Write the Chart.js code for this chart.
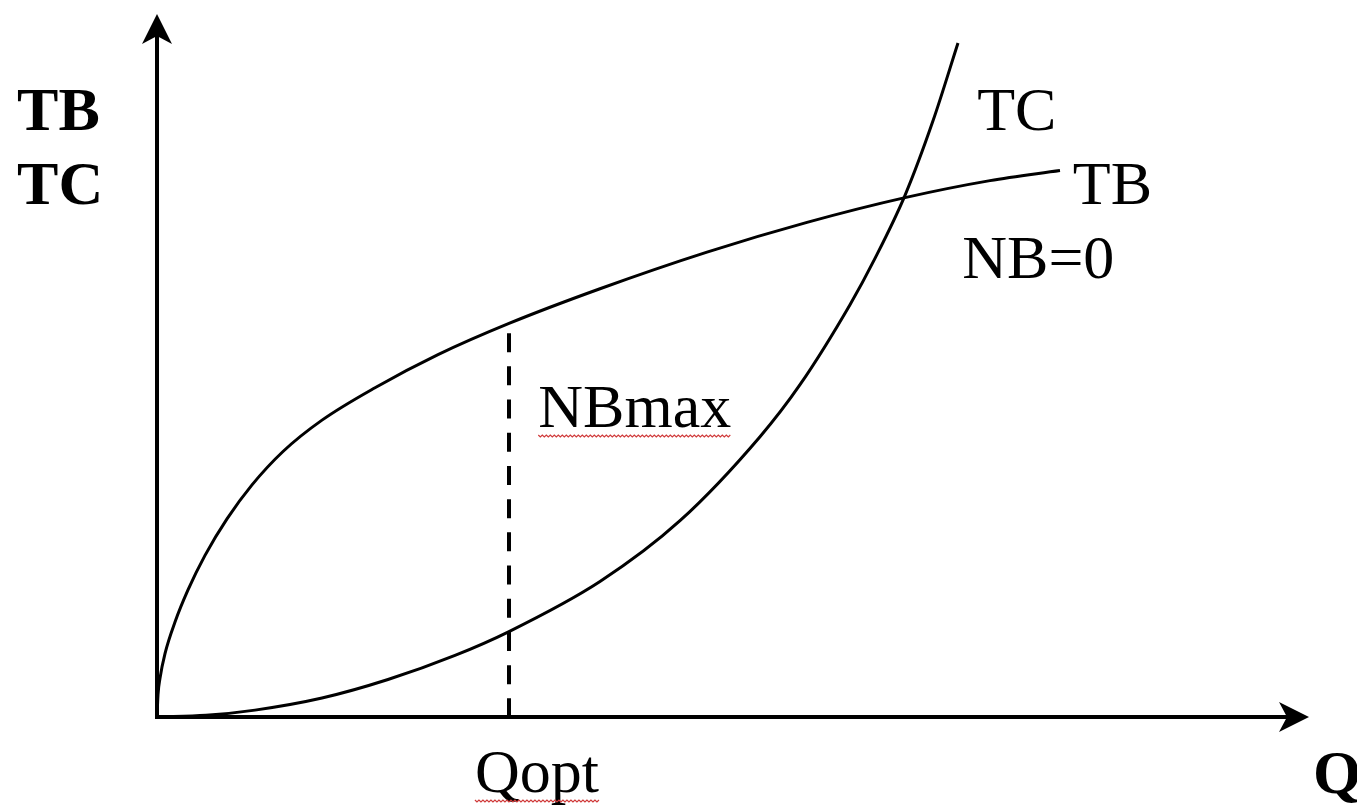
<!DOCTYPE html>
<html>
<head>
<meta charset="utf-8">
<script src="https://cdn.jsdelivr.net/npm/chart.js@4"></script>
<style>
  html, body { margin: 0; padding: 0; background: #ffffff; }
  #wrap { width: 1357px; height: 807px; position: relative; }
</style>
</head>
<body>
<div id="wrap"><canvas id="c"></canvas></div>
<script>
// ---- Data ----
const tbQ   = [0, 0.087, 0.26, 0.694, 1.563, 2.691, 4.167, 6.076, 8.247, 10.938, 14.323, 18.924, 24.392, 30.556, 38.455, 47.743, 56.424, 64.931, 72.309, 78.385];
const tbVal = [0, 3.19, 5.52, 9.02, 13.51, 18.07, 22.99, 28.18, 33.02, 37.77, 42.23, 46.84, 51.55, 55.99, 60.92, 66.13, 70.36, 73.88, 76.30, 77.74];
const tcQ   = [0, 4.253, 8.507, 14.323, 20.052, 25.868, 30.556, 38.455, 45.399, 52.344, 55.816, 60.156, 62.326, 64.931, 67.361, 69.531];
const tcVal = [0, 0.24, 0.98, 2.70, 5.33, 8.76, 12.15, 19.27, 27.92, 39.87, 47.27, 58.65, 65.23, 74.20, 84.80, 95.87];
const qOpt = 30.556;
const nbMaxTop = 54.6;
const axisMax = [100, 100];   // Q axis max, TB/TC axis max

const toPts = (xs, ys) => xs.map((x, i) => ({ x: x, y: ys[i] }));

// ---- Annotation texts ----
const labels = [
  { text: 'TB',    x: -12.15, y: 83.5,  bold: true },
  { text: 'TC',    x: -12.15, y: 73.0,  bold: true },
  { text: 'TC',    x: 71.2,   y: 83.5 },
  { text: 'TB',    x: 79.5,   y: 73.0 },
  { text: 'NB=0',  x: 69.9,   y: 62.4 },
  { text: 'NBmax', x: 33.1,   y: 41.25, squiggle: true },
  { text: 'Qopt',  x: 27.6,   y: -10.67, squiggle: true },
  { text: 'Q',     x: 100.35, y: -10.8, bold: true }
];

const axesPlugin = {
  id: 'axesArrows',
  afterDatasetsDraw(chart) {
    const ctx = chart.ctx;
    const xs = chart.scales.x, ys = chart.scales.y;
    const x0 = xs.getPixelForValue(0), y0 = ys.getPixelForValue(0);
    const xTip = xs.getPixelForValue(axisMax[0]), yTip = ys.getPixelForValue(axisMax[1]);
    ctx.save();
    ctx.strokeStyle = '#000';
    ctx.fillStyle = '#000';
    ctx.lineWidth = 4;
    ctx.lineCap = 'butt';
    // y axis
    ctx.beginPath();
    ctx.moveTo(x0, y0 + 2);
    ctx.lineTo(x0, yTip + 20);
    ctx.stroke();
    // x axis
    ctx.beginPath();
    ctx.moveTo(x0 - 2, y0);
    ctx.lineTo(xTip - 20, y0);
    ctx.stroke();
    // y arrow head
    ctx.beginPath();
    ctx.moveTo(x0, yTip);
    ctx.lineTo(x0 - 15, yTip + 30);
    ctx.lineTo(x0, yTip + 22);
    ctx.lineTo(x0 + 15, yTip + 30);
    ctx.closePath();
    ctx.fill();
    // x arrow head
    ctx.beginPath();
    ctx.moveTo(xTip, y0);
    ctx.lineTo(xTip - 30, y0 - 15);
    ctx.lineTo(xTip - 22, y0);
    ctx.lineTo(xTip - 30, y0 + 15);
    ctx.closePath();
    ctx.fill();

    // labels
    ctx.textBaseline = 'alphabetic';
    ctx.textAlign = 'left';
    labels.forEach(l => {
      ctx.font = (l.bold ? 'bold ' : '') + '62px "Liberation Serif", "Times New Roman", serif';
      ctx.fillStyle = '#000';
      const px = xs.getPixelForValue(l.x), py = ys.getPixelForValue(l.y);
      ctx.fillText(l.text, px, py);
      if (l.squiggle) {
        const w = ctx.measureText(l.text).width;
        ctx.strokeStyle = '#d03a3a';
        ctx.lineWidth = 1.2;
        ctx.beginPath();
        const yb = py + 8;
        let k = 0;
        for (let sx = px; sx <= px + w; sx += 2, k++) {
          const sy = yb + (k % 2 === 0 ? 0 : 2);
          if (k === 0) ctx.moveTo(sx, sy); else ctx.lineTo(sx, sy);
        }
        ctx.stroke();
      }
    });
    ctx.restore();
  }
};

new Chart(document.getElementById('c'), {
  type: 'scatter',
  data: {
    datasets: [
      {
        label: 'TB',
        data: toPts(tbQ, tbVal),
        showLine: true,
        borderColor: '#000',
        borderWidth: 3,
        pointRadius: 0,
        cubicInterpolationMode: 'monotone',
        clip: false
      },
      {
        label: 'TC',
        data: toPts(tcQ, tcVal),
        showLine: true,
        borderColor: '#000',
        borderWidth: 3,
        pointRadius: 0,
        cubicInterpolationMode: 'monotone',
        clip: false
      },
      {
        label: 'Qopt',
        data: [{ x: qOpt, y: nbMaxTop }, { x: qOpt, y: 0 }],
        showLine: true,
        borderColor: '#000',
        borderWidth: 4,
        borderDash: [19, 14.2],
        pointRadius: 0,
        clip: false
      }
    ]
  },
  options: {
    responsive: true,
    maintainAspectRatio: false,
    animation: false,
    events: [],
    layout: { padding: { left: 157, top: 14, right: 48, bottom: 90 } },
    plugins: { legend: { display: false }, tooltip: { enabled: false } },
    scales: {
      x: { type: 'linear', min: 0, max: axisMax[0], display: false },
      y: { type: 'linear', min: 0, max: axisMax[1], display: false }
    }
  },
  plugins: [axesPlugin]
});
</script>
</body>
</html>
